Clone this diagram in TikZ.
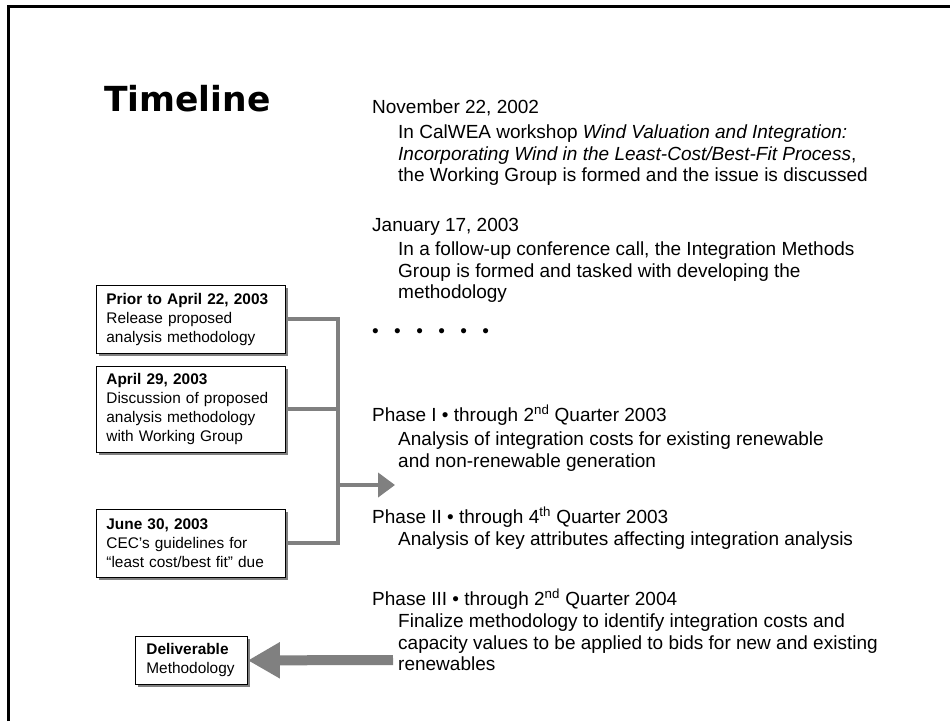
\documentclass[tikz,border=0pt]{standalone}
\usepackage{fontspec}
\setmainfont{Liberation Sans}
\newfontfamily\titlefont{DejaVu Sans}
\usetikzlibrary{arrows.meta,shadows}
\begin{document}
\begin{tikzpicture}[x=1pt,y=-1pt,line join=miter]
\tikzset{
    event/.style={draw,fill=white,line width=0.8pt,anchor=north west,align=left,inner xsep=10pt,inner ysep=0pt,minimum width=189pt,text width=169pt,font=\fontsize{15.4}{19}\selectfont,drop shadow={shadow xshift=3pt,shadow yshift=-3pt,fill=gray,opacity=1}},
    heading/.style={anchor=north west,inner sep=0pt,font=\fontsize{19}{21.3}\selectfont},
    detail/.style={heading,align=left},
    link/.style={draw=gray,line width=4pt},
    bigarrow/.style={draw=gray,line width=10pt,-{Triangle[length=32pt,width=34pt]}}
}
\fill[white] (0,0) rectangle (950,721);
\useasboundingbox (0,0) rectangle (950,721);
\draw[line width=3pt] (8.5,721) -- (8.5,6.5) -- (950,6.5);

\node[anchor=base west,inner sep=0pt,font=\titlefont\bfseries\fontsize{34.5}{37}\selectfont] (title) at (104,111) {Timeline};

% right column
\node[heading] (nov) at (372,100) {November 22, 2002};
\node[detail] (novText) at (398,125) {In CalWEA workshop \textit{Wind Valuation and Integration:}\\\textit{Incorporating Wind in the Least-Cost/Best-Fit Process},\\the Working Group is formed and the issue is discussed};
\node[heading] (jan) at (372,218) {January 17, 2003};
\node[detail] (janText) at (398,242) {In a follow-up conference call, the Integration Methods\\Group is formed and tasked with developing the\\methodology};
\node[heading,anchor=base west] (dots) at (372,337) {•\hspace{15.4pt}•\hspace{15.4pt}•\hspace{15.4pt}•\hspace{15.4pt}•\hspace{15.4pt}•};
\node[heading] (phase1) at (372,405) {Phase I • through 2\textsuperscript{nd} Quarter 2003};
\node[detail] (phase1Text) at (398,432) {Analysis of integration costs for existing renewable\\and non-renewable generation};
\node[heading] (phase2) at (372,507) {Phase II • through 4\textsuperscript{th} Quarter 2003};
\node[detail] (phase2Text) at (398,532) {Analysis of key attributes affecting integration analysis};
\node[heading] (phase3) at (372,589) {Phase III • through 2\textsuperscript{nd} Quarter 2004};
\node[detail] (phase3Text) at (398,614) {Finalize methodology to identify integration costs and\\capacity values to be applied to bids for new and existing\\renewables};

% milestone boxes
\node[event,minimum height=68pt] (release) at (96,285) {\textbf{Prior to April 22, 2003}\\Release proposed\\analysis methodology};
\node[event,minimum height=86pt] (discuss) at (96,366) {\textbf{April 29, 2003}\\Discussion of proposed\\analysis methodology\\with Working Group};
\node[event,minimum height=68pt] (guide) at (96,509) {\textbf{June 30, 2003}\\CEC’s guidelines for\\“least cost/best fit” due};
\node[event,minimum height=48pt,minimum width=112pt,text width=90pt,inner xsep=11pt] (deliver) at (135,636) {\textbf{Deliverable}\\Methodology};

% connectors
\coordinate (hub) at (338,485);
\coordinate (hubTip) at (395,485);
\coordinate (feed) at (393,660);
\draw[link] (release.east) -| (hub);
\draw[link] (guide.east) -| (hub);
\draw[link] (discuss.east) -- (discuss.east -| hub);
\draw[link,-{Triangle[length=17pt,width=24pt]}] (hub) -- (hubTip);
\draw[bigarrow] (feed) -- (deliver.east);
\end{tikzpicture}
\end{document}
